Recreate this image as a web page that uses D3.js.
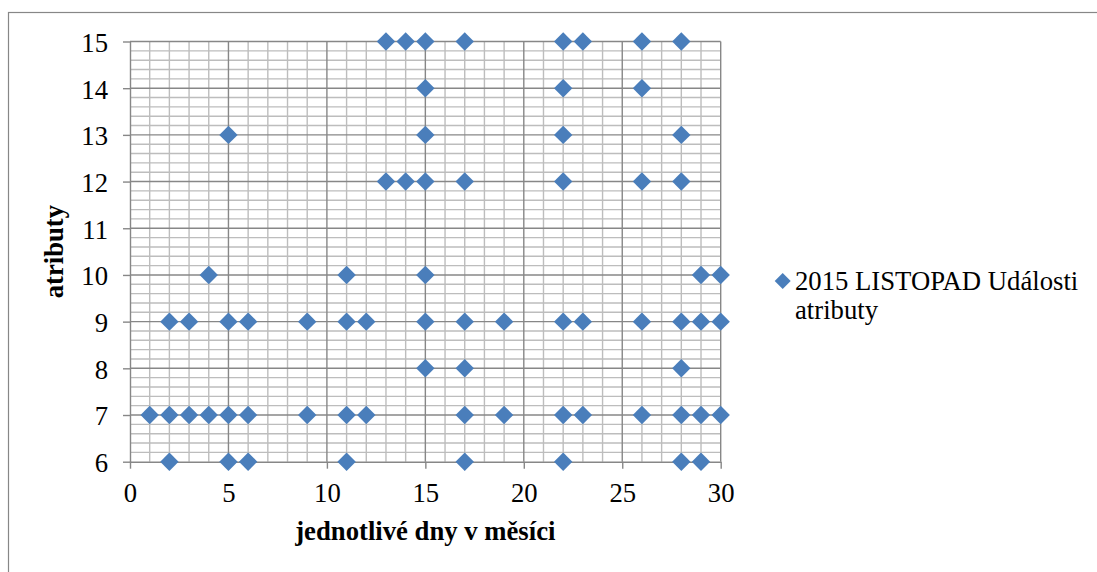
<!DOCTYPE html>
<html>
<head>
<meta charset="utf-8">
<script src="https://cdn.jsdelivr.net/npm/d3@7"></script>
<style>
  html, body { margin: 0; padding: 0; background: #fff; }
  svg { display: block; }
</style>
</head>
<body>
<svg id="chart" width="1097" height="572"></svg>
<script>
// Days of November (x) on which each attribute (y) occurred
const attributeLevels = [6, 7, 8, 9, 10, 12, 13, 14, 15];
const daysAttr6  = [2, 5, 6, 11, 17, 22, 28, 29];
const daysAttr7  = [1, 2, 3, 4, 5, 6, 9, 11, 12, 17, 19, 22, 23, 26, 28, 29, 30];
const daysAttr8  = [15, 17, 28];
const daysAttr9  = [2, 3, 5, 6, 9, 11, 12, 15, 17, 19, 22, 23, 26, 28, 29, 30];
const daysAttr10 = [4, 11, 15, 29, 30];
const daysAttr12 = [13, 14, 15, 17, 22, 26, 28];
const daysAttr13 = [5, 15, 22, 28];
const daysAttr14 = [15, 22, 26];
const daysAttr15 = [13, 14, 15, 17, 22, 23, 26, 28];
const daysByAttr = [daysAttr6, daysAttr7, daysAttr8, daysAttr9, daysAttr10,
                    daysAttr12, daysAttr13, daysAttr14, daysAttr15];

const xTickValues = [0, 5, 10, 15, 20, 25, 30];
const yTickValues = [6, 7, 8, 9, 10, 11, 12, 13, 14, 15];
const seriesName = ["2015 LISTOPAD Události", "atributy"];
const xTitle = "jednotlivé dny v měsíci";
const yTitle = "atributy";

const points = [];
attributeLevels.forEach((a, i) => daysByAttr[i].forEach(d => points.push({ day: d, attr: a })));

const FONT = '"Liberation Serif", monospace';
const FS = 26.7;
const svg = d3.select("#chart");
const markerColor = "#4a7ebb";
const majorColor = "#878787";
const minorColor = "#bdbdbd";

const x = d3.scaleLinear().domain([0, 30]).range([130, 720.7]);
const y = d3.scaleLinear().domain([6, 15]).range([461.7, 41.5]);

// chart area frame
svg.append("rect")
  .attr("x", 8.5).attr("y", 12.5)
  .attr("width", 1200).attr("height", 700)
  .attr("fill", "#fff").attr("stroke", majorColor).attr("stroke-width", 1.2);

const grid = svg.append("g");

// minor gridlines: every 0.2 on y, every day on x
const minorY = d3.range(0, 46).map(i => 6 + i * 0.2).filter(v => Math.abs(v - Math.round(v)) > 1e-6);
grid.selectAll(".minor-h").data(minorY).join("line")
  .attr("x1", x(0)).attr("x2", x(30))
  .attr("y1", d => y(d)).attr("y2", d => y(d))
  .attr("stroke", minorColor).attr("stroke-width", 1.4);
const minorX = d3.range(1, 31).filter(d => d % 5 !== 0);
grid.selectAll(".minor-v").data(minorX).join("line")
  .attr("x1", d => x(d)).attr("x2", d => x(d))
  .attr("y1", y(6)).attr("y2", y(15))
  .attr("stroke", minorColor).attr("stroke-width", 1.4);

// major gridlines
grid.selectAll(".major-h").data(yTickValues.slice(1)).join("line")
  .attr("x1", x(0)).attr("x2", x(30))
  .attr("y1", d => y(d)).attr("y2", d => y(d))
  .attr("stroke", majorColor).attr("stroke-width", 1.4);
grid.selectAll(".major-v").data(xTickValues.slice(1)).join("line")
  .attr("x1", d => x(d)).attr("x2", d => x(d))
  .attr("y1", y(6)).attr("y2", y(15))
  .attr("stroke", majorColor).attr("stroke-width", 1.4);

// axes
const xAxis = svg.append("g")
  .attr("transform", `translate(0,${y(6)})`)
  .call(d3.axisBottom(x).tickValues(xTickValues).tickSize(7).tickSizeOuter(0));
const yAxis = svg.append("g")
  .attr("transform", `translate(${x(0)},0)`)
  .call(d3.axisLeft(y).tickValues(yTickValues).tickSize(7).tickSizeOuter(0));

[xAxis, yAxis].forEach(g => {
  g.attr("font-family", FONT).attr("font-size", FS);
  g.select(".domain").attr("stroke", majorColor).attr("stroke-width", 1.4);
  g.selectAll(".tick line").attr("stroke", majorColor).attr("stroke-width", 1.4);
  g.selectAll(".tick text").attr("fill", "#000").attr("font-family", FONT);
});
xAxis.selectAll(".tick text").attr("y", 40.5).attr("dy", "0");
yAxis.selectAll(".tick text").attr("x", -22).attr("dy", "0.37em");

// markers
const diamond = "M0,-9.2L9.2,0L0,9.2L-9.2,0Z";
svg.append("g").selectAll("path").data(points).join("path")
  .attr("transform", d => `translate(${x(d.day)},${y(d.attr)})`)
  .attr("d", diamond)
  .attr("fill", markerColor);

// axis titles
svg.append("text")
  .attr("x", (x(0) + x(30)) / 2).attr("y", 540)
  .attr("text-anchor", "middle")
  .attr("font-family", FONT).attr("font-size", FS).attr("font-weight", "bold")
  .text(xTitle);
svg.append("text")
  .attr("transform", `translate(63,${(y(6) + y(15)) / 2}) rotate(-90)`)
  .attr("text-anchor", "middle")
  .attr("font-family", FONT).attr("font-size", FS).attr("font-weight", "bold")
  .text(yTitle);

// legend
const legend = svg.append("g");
legend.append("path")
  .attr("transform", "translate(782.7,281)")
  .attr("d", "M0,-8L8,0L0,8L-8,0Z")
  .attr("fill", markerColor);
const lt = legend.append("text")
  .attr("x", 795).attr("y", 289.5)
  .attr("font-family", FONT).attr("font-size", FS);
lt.selectAll("tspan").data(seriesName).join("tspan")
  .attr("x", 795)
  .attr("dy", (d, i) => i === 0 ? 0 : 29)
  .text(d => d);
</script>
</body>
</html>
